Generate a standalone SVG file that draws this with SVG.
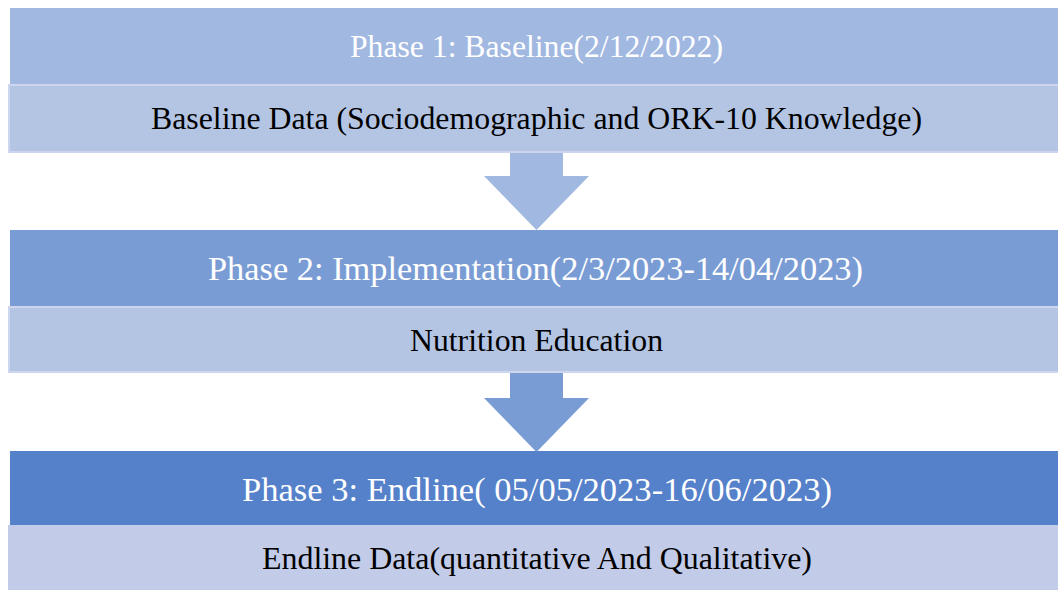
<svg xmlns="http://www.w3.org/2000/svg" width="1058" height="590" viewBox="0 0 1058 590">
  <style>
    .hdr { font-family: "Liberation Serif", "Times New Roman", serif; fill: #ffffff; }
    .sub { font-family: "Liberation Serif", "Times New Roman", serif; fill: #000000; }
    .subbox { stroke: #cdd6ee; stroke-width: 2; }
  </style>
  <rect width="1058" height="590" fill="#ffffff"/>

  <!-- Phase 1 -->
  <g id="phase1">
    <rect x="10" y="8" width="1060" height="76" fill="#a1b8e1"/>
    <text class="hdr" x="350" y="57" font-size="32" textLength="373" lengthAdjust="spacingAndGlyphs">Phase 1: Baseline(2/12/2022)</text>
  </g>
  <g id="baseline-data">
    <rect class="subbox" x="9" y="85" width="1060" height="67" fill="#b4c5e4"/>
    <text class="sub" x="151" y="129" font-size="31" textLength="771" lengthAdjust="spacingAndGlyphs">Baseline Data (Sociodemographic and ORK-10 Knowledge)</text>
  </g>

  <!-- Phase 2 -->
  <g id="phase2">
    <rect x="10" y="230" width="1060" height="76" fill="#7a9cd5"/>
    <text class="hdr" x="208" y="280" font-size="34.5" textLength="655" lengthAdjust="spacingAndGlyphs">Phase 2: Implementation(2/3/2023-14/04/2023)</text>
  </g>
  <g id="nutrition-education">
    <rect class="subbox" x="9" y="307" width="1060" height="65" fill="#b4c4e3"/>
    <text class="sub" x="410" y="351" font-size="31" textLength="253" lengthAdjust="spacingAndGlyphs">Nutrition Education</text>
  </g>

  <!-- Phase 3 -->
  <g id="phase3">
    <rect x="10" y="451" width="1060" height="74" fill="#5580ca"/>
    <text class="hdr" x="242" y="501" font-size="34.5" textLength="590" lengthAdjust="spacingAndGlyphs">Phase 3: Endline( 05/05/2023-16/06/2023)</text>
  </g>
  <g id="endline-data">
    <rect x="8" y="525" width="1060" height="70" fill="#c2cbe7"/>
    <text class="sub" x="262" y="569" font-size="31" textLength="550" lengthAdjust="spacingAndGlyphs">Endline Data(quantitative And Qualitative)</text>
  </g>

  <!-- block arrows between phases -->
  <g id="connectors">
    <polygon points="510,153 563,153 563,176 589,176 536.5,230 484,176 510,176" fill="#a1b8e1"/>
    <polygon points="510,373 563,373 563,398 589,398 536.5,452 484,398 510,398" fill="#7a9cd5"/>
  </g>
</svg>
